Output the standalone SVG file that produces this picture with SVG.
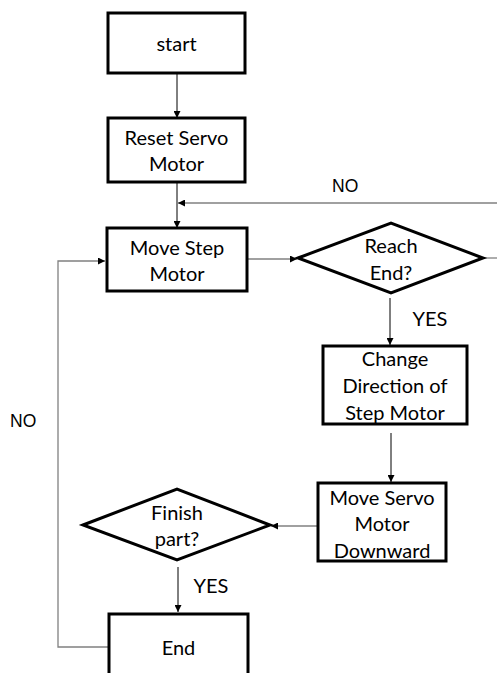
<svg xmlns="http://www.w3.org/2000/svg" width="497" height="673" viewBox="0 0 497 673">
<style>
.box{fill:#fff;stroke:#000;stroke-width:3}
.t{font-family:Lato,"Liberation Sans",sans-serif;font-size:20px;fill:#000;text-anchor:middle;dominant-baseline:central}
.lbl{font-family:"Liberation Sans",Arial,sans-serif;font-size:17.5px;fill:#000;dominant-baseline:central}
.c{fill:none;stroke:#000;stroke-width:1}
.g{fill:none;stroke:#808080;stroke-width:1.3}
</style>
<defs>
<marker id="ah" viewBox="0 0 10 10" refX="10" refY="5" markerWidth="7" markerHeight="7" markerUnits="userSpaceOnUse" orient="auto">
<path d="M0,0 L10,5 L0,10 z" fill="#000"/>
</marker>
</defs>
<g id="connectors">
<line class="c" x1="177" y1="73" x2="177" y2="118" marker-end="url(#ah)"/>
<line class="c" x1="177" y1="182" x2="177" y2="228" marker-end="url(#ah)"/>
<line class="g" x1="497" y1="203" x2="178" y2="203" marker-end="url(#ah)"/>
<line class="g" x1="247" y1="259" x2="297" y2="259" marker-end="url(#ah)"/>
<line class="g" x1="483" y1="258" x2="497" y2="258"/>
<line class="c" x1="390" y1="298" x2="390" y2="345" marker-end="url(#ah)"/>
<line class="c" x1="391" y1="433" x2="391" y2="482" marker-end="url(#ah)"/>
<line class="g" x1="318" y1="526" x2="271" y2="526" marker-end="url(#ah)"/>
<line class="c" x1="178" y1="567" x2="178" y2="612" marker-end="url(#ah)"/>
<polyline class="g" points="109,647 58,647 58,261 105,261" marker-end="url(#ah)"/>
<text class="lbl" x="332" y="186">NO</text>
<text class="t" x="430" y="318">YES</text>
<text class="t" x="211" y="585">YES</text>
<text class="lbl" x="10" y="421">NO</text>
</g>
<g id="start">
<rect class="box" x="108" y="13" width="137" height="60"/>
<text class="t" x="176.5" y="43">start</text>
</g>
<g id="reset">
<rect class="box" x="108" y="118" width="137" height="64"/>
<text class="t" x="176.5" y="137">Reset Servo</text>
<text class="t" x="176.5" y="163">Motor</text>
</g>
<g id="move-step">
<rect class="box" x="107" y="228" width="140" height="63"/>
<text class="t" x="177" y="247">Move Step</text>
<text class="t" x="177" y="273">Motor</text>
</g>
<g id="reach-end">
<polygon class="box" points="298,258 391,223 483,258 391,293"/>
<text class="t" x="391" y="245">Reach</text>
<text class="t" x="391" y="272">End?</text>
</g>
<g id="change-direction">
<rect class="box" x="323" y="346" width="144" height="78"/>
<text class="t" x="395" y="358">Change</text>
<text class="t" x="395" y="385">Direction of</text>
<text class="t" x="395" y="412">Step Motor</text>
</g>
<g id="move-servo">
<rect class="box" x="318" y="483" width="128" height="78"/>
<text class="t" x="382" y="497">Move Servo</text>
<text class="t" x="382" y="523">Motor</text>
<text class="t" x="382" y="550">Downward</text>
</g>
<g id="finish-part">
<polygon class="box" points="83,525 177,489 270,525 177,560"/>
<text class="t" x="177" y="512">Finish</text>
<text class="t" x="177" y="538">part?</text>
</g>
<g id="end">
<rect class="box" x="109" y="614" width="139" height="70"/>
<text class="t" x="178.5" y="647">End</text>
</g>
</svg>
